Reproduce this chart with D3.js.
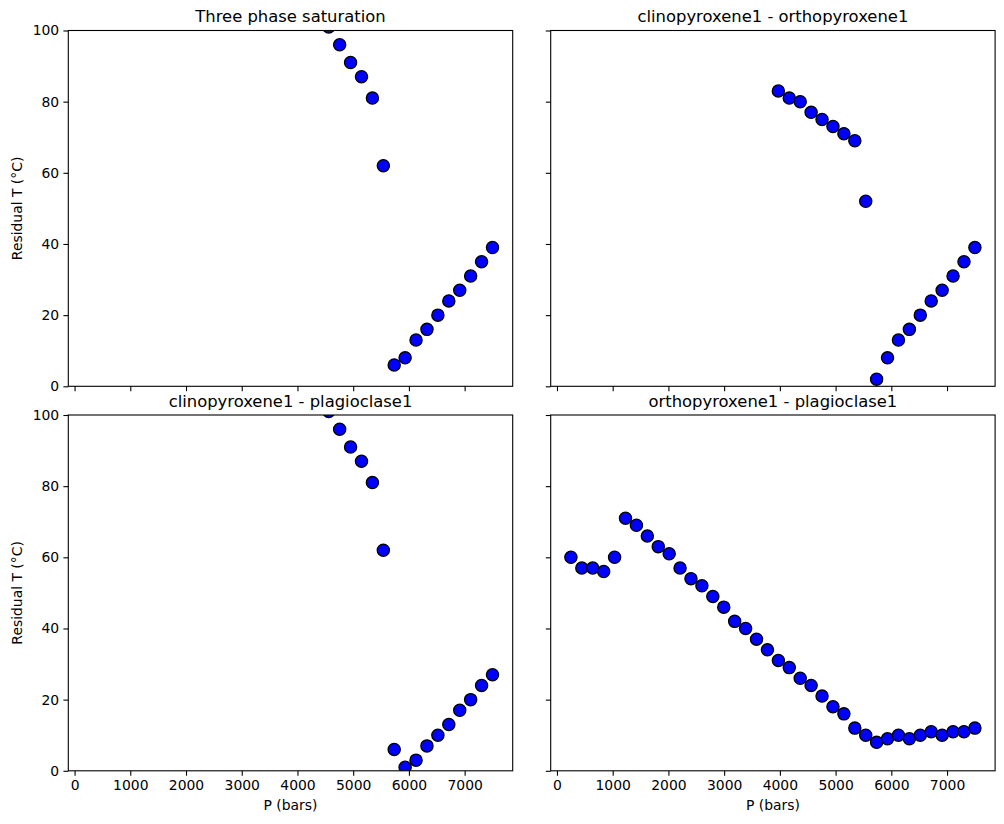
<!DOCTYPE html>
<html lang="en">
<head>
<meta charset="utf-8">
<title>Residual T</title>
<script src="https://cdn.jsdelivr.net/npm/d3@7"></script>
<style>
  body { margin: 0; background: #fff; }
  svg { display: block; font-family: "DejaVu Sans", sans-serif; }
</style>
</head>
<body>
<svg width="1004" height="824"></svg>
<script>
// pressures (bars) of the computed points
const pressureBars = [250, 446, 642, 838, 1034, 1230, 1426, 1622, 1818, 2014,
  2209, 2405, 2601, 2797, 2993, 3189, 3385, 3581, 3777, 3973,
  4169, 4365, 4561, 4757, 4953, 5149, 5345, 5541, 5736, 5932,
  6128, 6324, 6520, 6716, 6912, 7108, 7304, 7500];

// residual T (°C); each series ends at the last pressure
const threePhaseResidual = [101, 96, 91, 87, 81, 62, 6, 8, 13, 16, 20, 24, 27, 31, 35, 39];
const cpxOpxResidual = [83, 81, 80, 77, 75, 73, 71, 69, 52, 2, 8, 13, 16, 20, 24, 27, 31, 35, 39];
const cpxPlagResidual = [101, 96, 91, 87, 81, 62, 6, 1, 3, 7, 10, 13, 17, 20, 24, 27];
const opxPlagResidual = [60, 57, 57, 56, 60, 71, 69, 66, 63, 61, 57, 54, 52, 49, 46, 42, 40, 37, 34,
  31, 29, 26, 24, 21, 18, 16, 12, 10, 8, 9, 10, 9, 10, 11, 10, 11, 11, 12];

const panelTitles = ["Three phase saturation", "clinopyroxene1 - orthopyroxene1",
  "clinopyroxene1 - plagioclase1", "orthopyroxene1 - plagioclase1"];
const panelSeries = [threePhaseResidual, cpxOpxResidual, cpxPlagResidual, opxPlagResidual];

const xTicks = [0, 1000, 2000, 3000, 4000, 5000, 6000, 7000];
const yTicks = [0, 20, 40, 60, 80, 100];

const svg = d3.select("svg");

// panel boxes
const colLeft = [68.3, 550.7];
const rowTop = [30.5, 415];
const panelW = 444.4, panelH = 355.8;

// shared x with 5% padding, like matplotlib autoscale
const ext = d3.extent(pressureBars);
const pad = (ext[1] - ext[0]) * 0.05;
const x = d3.scaleLinear().domain([ext[0] - pad, ext[1] + pad]).range([0, panelW]);
const y = d3.scaleLinear().domain([0, 100]).range([panelH, 0]);

panelSeries.forEach(function (values, i) {
  const col = i % 2, row = Math.floor(i / 2);
  const pts = values.map(function (v, k) {
    return { p: pressureBars[pressureBars.length - values.length + k], t: v };
  });

  const g = svg.append("g")
    .attr("transform", "translate(" + colLeft[col] + "," + rowTop[row] + ")");

  g.append("clipPath").attr("id", "clip" + i)
    .append("rect").attr("width", panelW).attr("height", panelH);

  // axes
  const xAxis = d3.axisBottom(x).tickValues(xTicks).tickSize(4.9).tickPadding(4.2)
    .tickFormat(d3.format("d"));
  if (row === 0) xAxis.tickFormat("");
  const gx = g.append("g").attr("transform", "translate(0," + panelH + ")").call(xAxis);

  const yAxis = d3.axisLeft(y).tickValues(yTicks).tickSize(4.9).tickPadding(4.2)
    .tickFormat(d3.format("d"));
  if (col === 1) yAxis.tickFormat("");
  const gy = g.append("g").call(yAxis);

  [gx, gy].forEach(function (a) {
    a.select(".domain").remove();
    a.selectAll("line").attr("stroke", "#000").attr("stroke-width", 1.1);
    a.selectAll("text").attr("fill", "#000").style("font-size", "13.9px")
      .style("font-family", "DejaVu Sans, sans-serif");
  });

  // points
  g.append("g").attr("clip-path", "url(#clip" + i + ")")
    .selectAll("circle")
    .data(pts)
    .enter()
    .append("circle")
      .attr("cx", function (d) { return x(d.p); })
      .attr("cy", function (d) { return y(d.t); })
      .attr("r", 6.1)
      .attr("fill", "#0000ff")
      .attr("stroke", "#000")
      .attr("stroke-width", 1.3);

  // frame
  g.append("rect").attr("width", panelW).attr("height", panelH)
    .attr("fill", "none").attr("stroke", "#000").attr("stroke-width", 1.1);

  g.append("text")
    .attr("x", panelW / 2).attr("y", -8.5)
    .attr("text-anchor", "middle")
    .style("font-size", "16.4px")
    .text(panelTitles[i]);

  if (row === 1) {
    g.append("text")
      .attr("x", panelW / 2).attr("y", panelH + 39)
      .attr("text-anchor", "middle")
      .style("font-size", "13.9px")
      .text("P (bars)");
  }
  if (col === 0) {
    g.append("text")
      .attr("transform", "translate(-46," + panelH / 2 + ") rotate(-90)")
      .attr("text-anchor", "middle")
      .style("font-size", "13.9px")
      .text("Residual T (°C)");
  }
});
</script>
</body>
</html>
